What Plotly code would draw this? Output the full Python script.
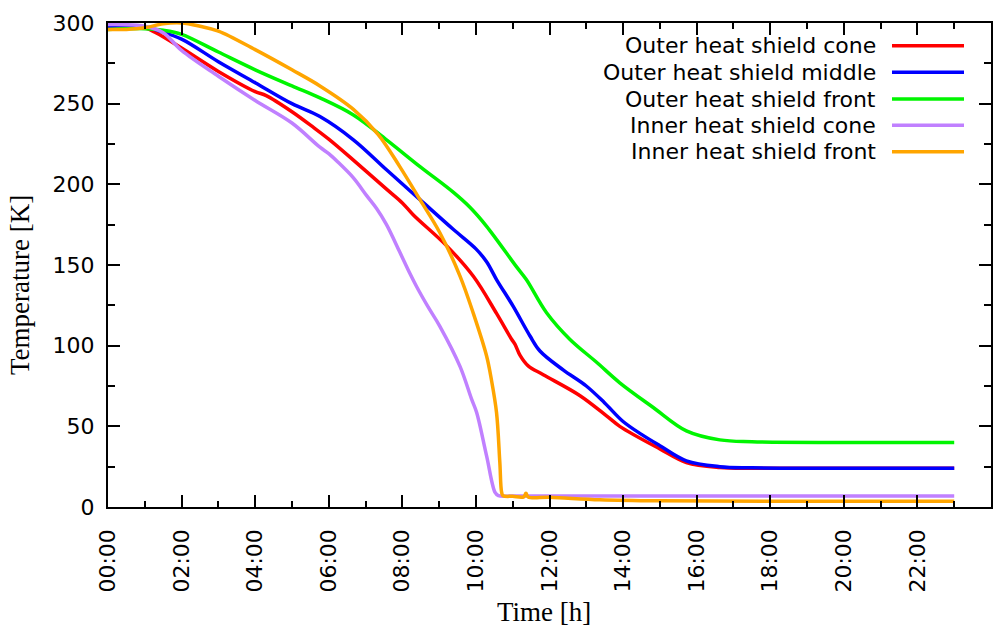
import plotly.graph_objects as go

# Elapsed time [h] and temperature [K] for each sensor
t_outer_cone = [0, 0.5, 1.0, 1.3, 2.0, 3.0, 4.0, 4.3, 5.0, 5.6, 6.0, 6.67, 7.57, 8.0, 8.3,
                9.2, 9.93, 10.56, 10.97, 11.06, 11.2, 11.42, 11.83, 12.83, 13.55, 13.91,
                15.0, 15.72, 16.63, 17.5, 19.0, 21.0, 23.0]
k_outer_cone = [298, 298, 297, 294, 284.5, 270, 257.5, 255, 245, 235, 228, 215, 197, 188.5, 181,
                162, 143, 120, 104, 101, 94, 87.5, 82, 69, 56.5, 50,
                36, 27.6, 24.5, 24, 24, 24, 24]

t_outer_middle = [0, 1.0, 1.4, 2.0, 3.0, 4.0, 5.0, 5.76, 6.67, 7.57, 8.48, 9.39, 10.0, 10.29,
                  10.56, 11.01, 11.47, 11.74, 12.37, 13.0, 13.5, 14.0, 14.5, 15.0, 15.72, 16.63,
                  17.5, 20.0, 23.0]
k_outer_middle = [298, 297.5, 295, 290, 276, 263, 250, 242, 227.6, 209, 190.5, 172, 160, 152,
                  141, 124.5, 106, 96.7, 85, 75, 64.5, 53, 45, 38, 28.6, 25,
                  24.3, 24, 24]

t_outer_front = [0, 1.0, 1.5, 2.0, 3.0, 4.0, 5.0, 5.76, 6.67, 7.57, 8.48, 9.39, 9.85, 10.29,
                 11.1, 11.37, 11.92, 12.55, 13.28, 13.91, 14.82, 15.72, 16.63, 17.5, 20.0, 23.0]
k_outer_front = [296, 296.5, 295.5, 293, 282, 271, 261, 253.6, 243, 227.6, 211, 195, 185.5, 174,
                 149, 141, 120.4, 104, 89.7, 77, 61.7, 47.2, 41.6, 40.4, 40, 40]

t_inner_cone = [0, 1.0, 1.5, 2.0, 3.0, 4.0, 5.0, 5.76, 6.0, 6.24, 6.67, 7.03, 7.3, 7.57, 7.93,
                8.2, 8.39, 8.7, 9.02, 9.57, 9.88, 10.02, 10.29, 10.52, 10.61, 11.0, 15.0, 23.0]
k_inner_cone = [299, 298, 294, 283, 267, 252, 238, 223, 219, 214, 204, 193, 185, 175, 158,
                145, 136.5, 124, 112, 87, 67, 58.6, 31.7, 9, 7, 6.8, 6.8, 6.8]

t_inner_front = [0, 0.5, 1.0, 1.5, 2.0, 2.5, 3.0, 4.0, 5.0, 5.76, 6.67, 7.34, 7.93, 8.48, 9.02,
                 9.57, 9.93, 10.29, 10.42, 10.56, 10.65, 10.70, 10.74, 11.0, 11.3, 11.36, 11.42,
                 12.0, 13.37, 15.0, 18.0, 23.0]
k_inner_front = [296, 296, 297, 299.5, 300, 298, 295, 283.5, 271, 261, 246.5, 231, 211, 190.5, 170,
                 143, 120, 93.6, 79, 58.6, 27.6, 9, 7, 6.6, 6.3, 8.5, 6.2,
                 6, 4.5, 3.8, 3.5, 3.5]

SERIES = [
    ("Outer heat shield cone", t_outer_cone, k_outer_cone, "#ff0000"),
    ("Outer heat shield middle", t_outer_middle, k_outer_middle, "#0000ff"),
    ("Outer heat shield front", t_outer_front, k_outer_front, "#00f500"),
    ("Inner heat shield cone", t_inner_cone, k_inner_cone, "#c080ff"),
    ("Inner heat shield front", t_inner_front, k_inner_front, "#ffa500"),
]

X_TICKS = [0, 2, 4, 6, 8, 10, 12, 14, 16, 18, 20, 22, 24]
X_TICK_LABELS = ["00:00", "02:00", "04:00", "06:00", "08:00", "10:00", "12:00",
                 "14:00", "16:00", "18:00", "20:00", "22:00", "00:00"]
Y_TICKS = [0, 50, 100, 150, 200, 250, 300]
Y_TICK_LABELS = ["0", "50", "100", "150", "200", "250", "300"]

SANS = "DejaVu Sans"
SERIF = "Liberation Serif"

# trailing fixed-width spaces keep the tick labels clear of the inward ticks
X_PAD = "\u00a0\u2009"
Y_PAD = "\u00a0"

fig = go.Figure()
for name, t, k, color in SERIES:
    fig.add_trace(go.Scatter(x=t, y=k, mode="lines", name=name,
                             line=dict(color=color, width=3.5, shape="spline", smoothing=1.0),
                             showlegend=False))

# Key: labels right-aligned with the line sample to their right
W, H = 1003, 631
L, R, T, B = 108, 12, 23, 124
pw, ph = W - L - R, H - T - B
row_y = [45.7, 72.3, 99.0, 125.3, 151.7]
for (name, _, _, color), py in zip(SERIES, row_y):
    yp = (H - B - py) / ph
    fig.add_annotation(x=(878 - L) / pw, y=yp, xref="paper", yref="paper",
                       text=name, showarrow=False, xanchor="right", yanchor="middle",
                       font=dict(family=SANS, size=22, color="black"))
    fig.add_shape(type="line", xref="paper", yref="paper",
                  x0=(892 - L) / pw, x1=(964 - L) / pw, y0=yp, y1=yp,
                  line=dict(color=color, width=3.5))

# Axis titles
fig.add_annotation(x=0.5, y=0, xref="paper", yref="paper", xshift=-6, yshift=-105,
                   text="Time [h]", showarrow=False, yanchor="middle",
                   font=dict(family=SERIF, size=27, color="black"))
fig.add_annotation(x=0, y=0.5, xref="paper", yref="paper", xshift=-88, yshift=-20,
                   text="Temperature [K]", showarrow=False, textangle=-90,
                   xanchor="center", yanchor="middle",
                   font=dict(family=SERIF, size=27, color="black"))

axis_common = dict(showgrid=False, zeroline=False, showline=True, linecolor="black",
                   linewidth=2, mirror="ticks", ticks="inside", tickwidth=2,
                   tickcolor="black", ticklen=12,
                   tickfont=dict(family=SANS, size=22, color="black"))

fig.update_xaxes(range=[0, 24], tickmode="array", tickvals=X_TICKS,
                 ticktext=[s + X_PAD for s in X_TICK_LABELS], tickangle=-90,
                 minor=dict(ticks="inside", dtick=1, ticklen=6, tickwidth=2,
                            tickcolor="black", showgrid=False),
                 **axis_common)
fig.update_yaxes(range=[0, 300], tickmode="array", tickvals=Y_TICKS,
                 ticktext=[s + Y_PAD for s in Y_TICK_LABELS],
                 minor=dict(ticks="inside", dtick=25, ticklen=7, tickwidth=2,
                            tickcolor="black", showgrid=False),
                 **axis_common)

fig.update_layout(width=W, height=H, margin=dict(l=L, r=R, t=T, b=B, autoexpand=False),
                  plot_bgcolor="white", paper_bgcolor="white", showlegend=False)

fig.write_html("out.html")
